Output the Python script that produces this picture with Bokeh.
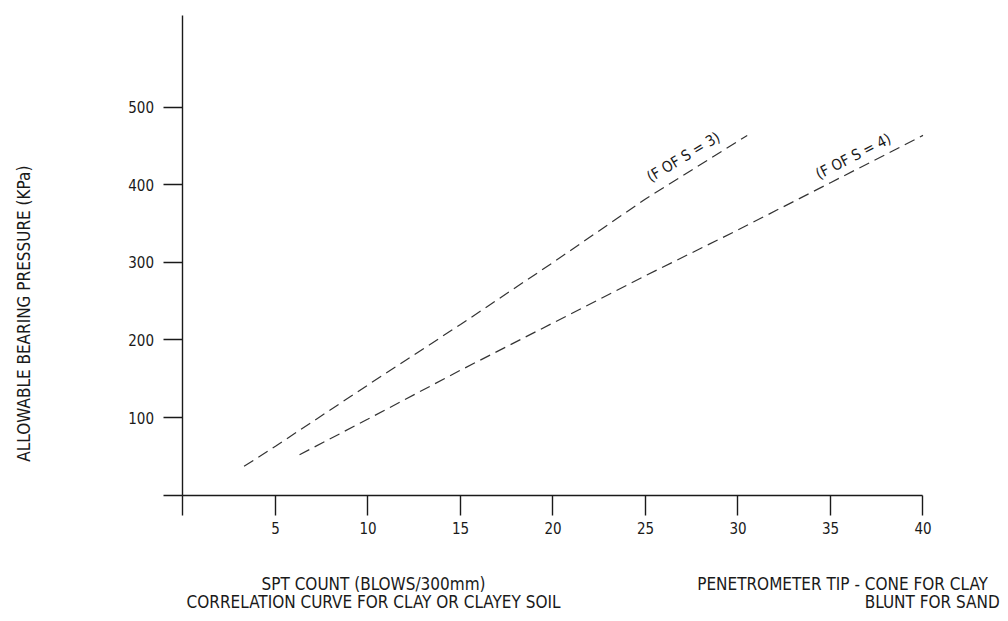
import math
from bokeh.plotting import figure
from bokeh.models import Range1d, FixedTicker
from bokeh.core.properties import value
from bokeh.embed import file_html
from bokeh.resources import INLINE

# ---- data ----
spt_fs3 = [3.3, 5, 10, 15, 20, 25, 30.5]
abp_fs3 = [37, 63, 142, 220, 300, 382, 464]
spt_fs4 = [6.3, 10, 15, 20, 25, 30, 35, 40]
abp_fs4 = [52, 98, 161, 222, 283, 342, 403, 464]

x_ticks = [0, 5, 10, 15, 20, 25, 30, 35, 40]
y_ticks = [0, 100, 200, 300, 400, 500]
curve_labels = ["(F OF S = 3)", "(F OF S = 4)"]
y_title = "ALLOWABLE BEARING PRESSURE (KPa)"
x_title = ["SPT COUNT (BLOWS/300mm)", "CORRELATION CURVE FOR CLAY OR CLAYEY SOIL"]
tip_note = ["PENETROMETER TIP - CONE FOR CLAY", "BLUNT FOR SAND"]

FONT = "DejaVu Sans Condensed"
INK = "#1a1a1a"

p = figure(width=1000, height=613,
           x_range=Range1d(-9.865, 44.19), y_range=Range1d(-152.9, 638.06),
           output_backend="svg", toolbar_location=None, min_border=0)
p.outline_line_color = None
p.grid.visible = False
p.background_fill_color = "white"

for ax in (p.xaxis[0], p.yaxis[0]):
    ax.fixed_location = 0
    ax.axis_line_color = INK
    ax.axis_line_width = 1.4
    ax.major_tick_line_color = INK
    ax.major_tick_line_width = 1.4
    ax.major_tick_in = 0
    ax.minor_tick_line_color = None
    ax.major_label_text_font = FONT
    ax.major_label_text_font_size = "15px"
    ax.major_label_text_color = INK
    ax.major_label_overrides = {0: ""}

p.xaxis[0].ticker = FixedTicker(ticks=x_ticks)
p.xaxis[0].bounds = (0, 40)
p.xaxis[0].major_tick_out = 20
p.xaxis[0].major_label_standoff = 7
p.yaxis[0].ticker = FixedTicker(ticks=y_ticks)
p.yaxis[0].bounds = (0, 618.7)
p.yaxis[0].major_tick_out = 19
p.yaxis[0].major_label_standoff = 10

p.line(spt_fs3, abp_fs3, line_dash="11 6", line_width=1.2, line_color="#333333")
p.line(spt_fs4, abp_fs4, line_dash="11 6", line_width=1.2, line_color="#333333")

common = dict(text_font=value(FONT), text_color=INK, text_align="center", text_baseline="middle")
p.text(x=[27.05], y=[436], text=[curve_labels[0]], angle=math.radians(31),
       text_font_size="15px", **common)
p.text(x=[36.24], y=[437], text=[curve_labels[1]], angle=math.radians(27),
       text_font_size="15px", **common)
p.text(x=[-8.62], y=[234], text=[y_title], angle=math.pi / 2,
       text_font_size="17px", **common)
p.text(x=[10.3, 10.3], y=[-114.2, -138.7], text=x_title,
       text_font_size="17px", **common)
p.text(x=[35.65, 40.5], y=[-114.2, -138.7], text=tip_note,
       text_font_size="17px", **common)

open("out.html", "w").write(file_html(p, INLINE))
